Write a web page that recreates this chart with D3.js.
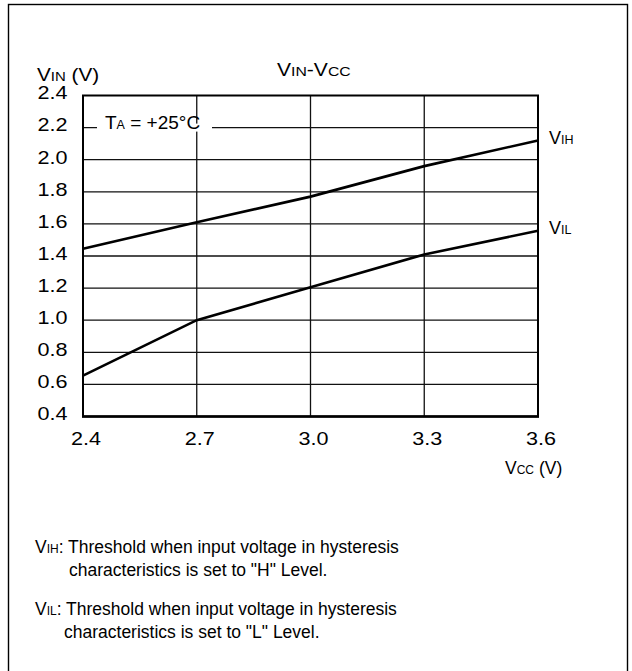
<!DOCTYPE html>
<html>
<head>
<meta charset="utf-8">
<script src="https://cdn.jsdelivr.net/npm/d3@7"></script>
<style>
  html, body { margin: 0; padding: 0; background: #fff; }
  svg { display: block; font-family: "Liberation Sans", Arial, Helvetica, sans-serif; }
</style>
</head>
<body>
<svg id="chart" width="632" height="671"></svg>
<script>
// Supply voltage (V) along the x axis
const vcc = [2.4, 2.7, 3.0, 3.3, 3.6];
// Input threshold voltages (V) at each supply voltage
const vih = [1.445, 1.61, 1.77, 1.96, 2.12];
const vil = [0.655, 1.0, 1.205, 1.41, 1.557];
// Axis tick labels
const xTicks = ["2.4", "2.7", "3.0", "3.3", "3.6"];
const yTicks = ["0.4", "0.6", "0.8", "1.0", "1.2", "1.4", "1.6", "1.8", "2.0", "2.2", "2.4"];

const svg = d3.select("#chart");
const plot = { left: 83, right: 538, top: 95.5, bottom: 416.5 };

const x = d3.scaleLinear().domain([2.4, 3.6]).range([plot.left, plot.right]);
const y = d3.scaleLinear().domain([0.4, 2.4]).range([plot.bottom, plot.top]);

// Frame around the whole figure
svg.append("rect")
  .attr("x", 8.5).attr("y", 4.5)
  .attr("width", 619).attr("height", 680)
  .attr("fill", "none").attr("stroke", "#000").attr("stroke-width", 1.4);

// Grid
const grid = svg.append("g").attr("stroke", "#111").attr("stroke-width", 1.3).attr("fill", "none");
grid.selectAll("line.h")
  .data(yTicks.map(Number).filter(v => v > 0.4 && v < 2.4))
  .join("line").attr("class", "h")
  .attr("x1", plot.left).attr("x2", plot.right)
  .attr("y1", d => y(d)).attr("y2", d => y(d));
grid.selectAll("line.v")
  .data(xTicks.map(Number).filter(v => v > 2.4 && v < 3.6))
  .join("line").attr("class", "v")
  .attr("y1", plot.top).attr("y2", plot.bottom)
  .attr("x1", d => x(d)).attr("x2", d => x(d));

// Plot border
svg.append("rect")
  .attr("x", plot.left).attr("y", plot.top)
  .attr("width", plot.right - plot.left).attr("height", plot.bottom - plot.top)
  .attr("fill", "none").attr("stroke", "#000").attr("stroke-width", 2);
svg.append("line")
  .attr("x1", plot.left - 1).attr("x2", plot.right + 1)
  .attr("y1", plot.bottom).attr("y2", plot.bottom)
  .attr("stroke", "#000").attr("stroke-width", 2.6);

// Text helper: a main run plus small same-baseline suffixes, optionally widened
function label(xPos, yPos, parts, opts) {
  opts = opts || {};
  const size = opts.size || 18, sub = opts.sub || 12.5, sx = opts.sx || 1;
  const g = svg.append("g").attr("transform", `translate(${xPos},${yPos}) scale(${sx},1)`);
  const t = g.append("text").attr("x", 0).attr("y", 0)
    .attr("font-size", size).attr("text-anchor", opts.anchor || "start").attr("fill", "#000");
  parts.forEach(p => t.append("tspan").attr("font-size", p[1] ? sub : size).text(p[0]));
  return g;
}

// Ambient temperature label sitting over the 2.2 V grid line
svg.append("rect")
  .attr("x", 97).attr("y", y(2.2) - 4).attr("width", 115).attr("height", 8)
  .attr("fill", "#fff");
label(105, y(2.2) + 1.5, [["T"], ["A", 1], [" = +25°C"]], { size: 19, sub: 12.5 });

// Threshold curves
const line = d3.line().x((d, i) => x(vcc[i])).y(d => y(d));
svg.append("path").datum(vih).attr("d", line)
  .attr("fill", "none").attr("stroke", "#000").attr("stroke-width", 2.6);
svg.append("path").datum(vil).attr("d", line)
  .attr("fill", "none").attr("stroke", "#000").attr("stroke-width", 2.6);

// Y tick labels
yTicks.forEach(d => label(plot.left - 15.5, y(+d) + 3.8, [[d]], { anchor: "end", sx: 1.2 }));
// X tick labels
xTicks.forEach(d => label(x(+d) + 3, 445, [[d]], { anchor: "middle", sx: 1.2 }));

// Axis names, title and curve names
label(37, 81, [["V"], ["IN", 1], [" (V)"]], { sx: 1.15, sub: 13 });
label(277, 76, [["V"], ["IN", 1], ["-V"], ["CC", 1]], { sx: 1.17, sub: 13.5 });
label(549, 144, [["V"], ["IH", 1]]);
label(549, 234, [["V"], ["IL", 1]]);
label(505, 474, [["V"], ["CC", 1], [" (V)"]], { size: 17.5, sub: 12 });

// Footnotes
const fn = { size: 17.5, sub: 12 };
label(35, 553, [["V"], ["IH", 1], [": Threshold when input voltage in hysteresis"]], fn);
label(69, 576, [["characteristics is set to \"H\" Level."]], fn);
label(35, 615, [["V"], ["IL", 1], [": Threshold when input voltage in hysteresis"]], fn);
label(64, 638, [["characteristics is set to \"L\" Level."]], fn);
</script>
</body>
</html>
